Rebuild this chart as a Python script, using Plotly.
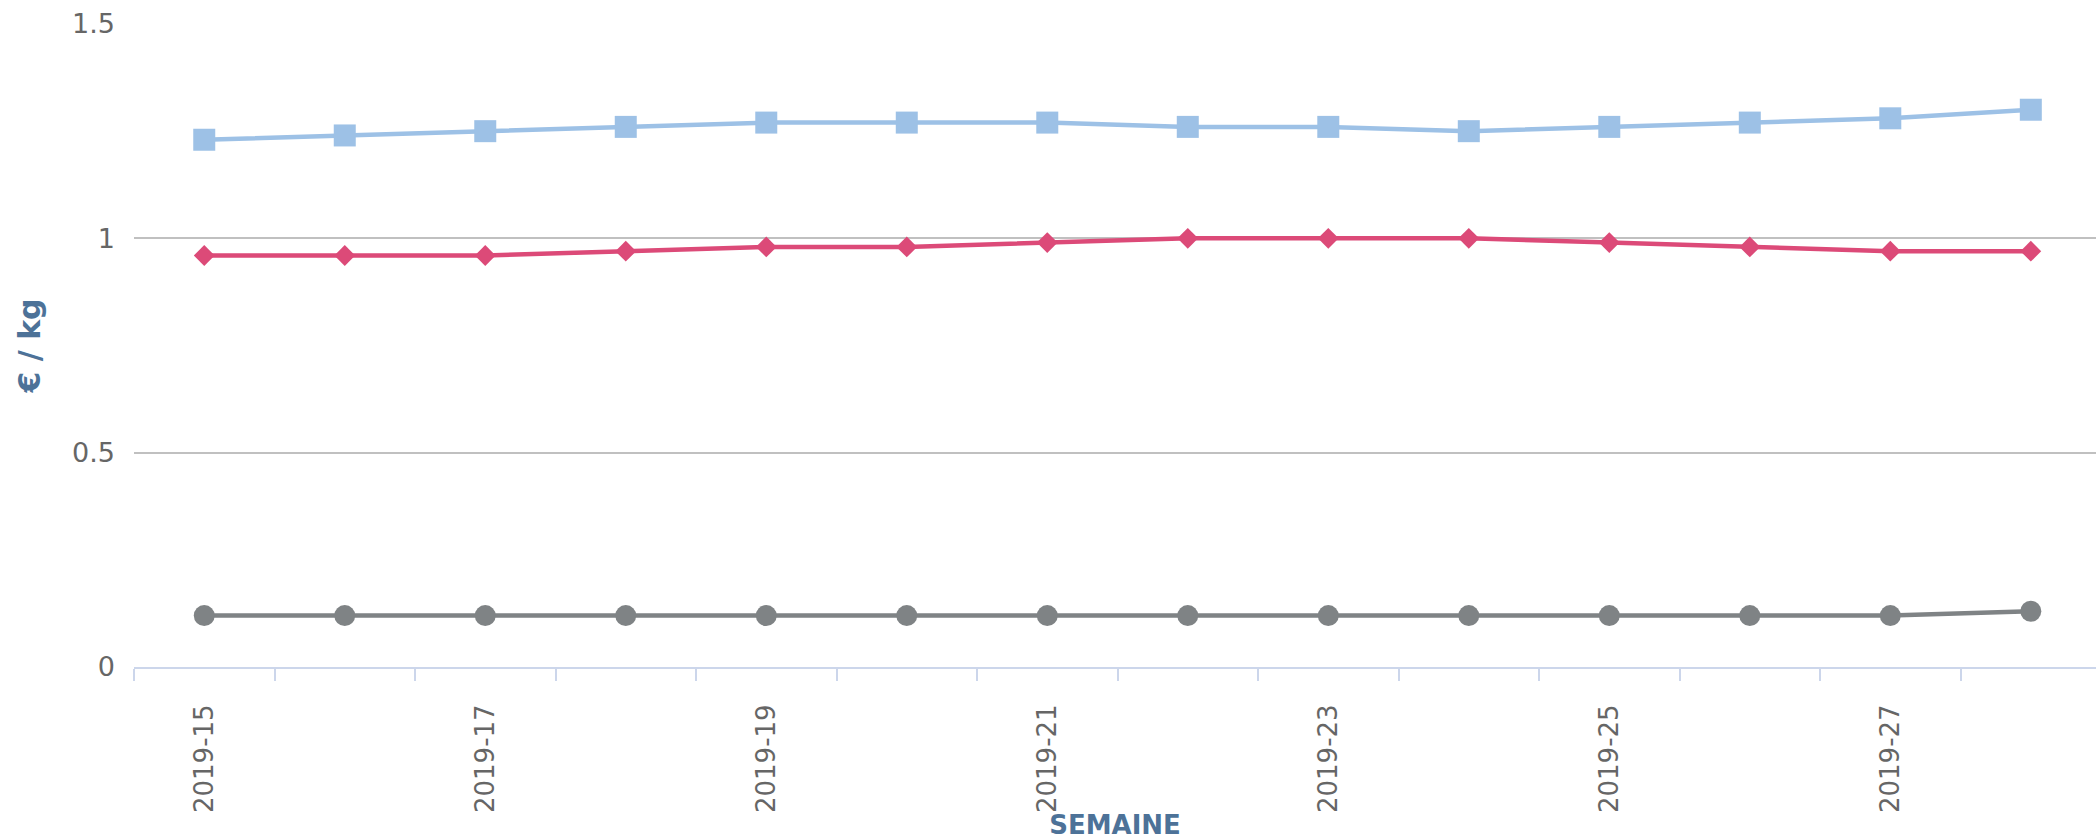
import plotly.graph_objects as go

weeks = ["2019-15", "2019-16", "2019-17", "2019-18", "2019-19", "2019-20", "2019-21",
         "2019-22", "2019-23", "2019-24", "2019-25", "2019-26", "2019-27", "2019-28"]
tick_text = [w if i % 2 == 0 else "" for i, w in enumerate(weeks)]

serie_bleue = [1.23, 1.24, 1.25, 1.26, 1.27, 1.27, 1.27, 1.26, 1.26, 1.25, 1.26, 1.27, 1.28, 1.30]
serie_rose = [0.96, 0.96, 0.96, 0.97, 0.98, 0.98, 0.99, 1.00, 1.00, 1.00, 0.99, 0.98, 0.97, 0.97]
serie_grise = [0.12, 0.12, 0.12, 0.12, 0.12, 0.12, 0.12, 0.12, 0.12, 0.12, 0.12, 0.12, 0.12, 0.13]

FONT = "DejaVu Sans"

fig = go.Figure()
fig.add_trace(go.Scatter(x=weeks, y=serie_bleue, mode="lines+markers",
                         line=dict(color="#9dc1e6", width=4.5),
                         marker=dict(symbol="square", size=22, color="#9dc1e6"),
                         showlegend=False))
fig.add_trace(go.Scatter(x=weeks, y=serie_rose, mode="lines+markers",
                         line=dict(color="#dc4a78", width=4.5),
                         marker=dict(symbol="diamond", size=16, color="#dc4a78"),
                         showlegend=False))
fig.add_trace(go.Scatter(x=weeks, y=serie_grise, mode="lines+markers",
                         line=dict(color="#7f8385", width=4.5),
                         marker=dict(symbol="circle", size=21, color="#7f8385"),
                         showlegend=False))

fig.update_layout(
    width=2096, height=840,
    margin=dict(l=134, r=0, t=24, b=173),
    paper_bgcolor="white", plot_bgcolor="white",
    font=dict(family=FONT, size=26, color="#666666"),
    xaxis=dict(
        type="category", range=[-0.5, 13.464],
        tickmode="array", tickvals=weeks, ticktext=tick_text,
        tickson="boundaries", ticks="outside", ticklen=12, tickwidth=2,
        tickcolor="#ccd6eb", showline=True, linecolor="#ccd6eb", linewidth=2,
        showgrid=False, tickangle=-90, ticklabelstandoff=25,
        tickfont=dict(family=FONT, size=26, color="#666666"),
        title=dict(text="<b>SEMAINE</b>", font=dict(family=FONT, size=26, color="#4d7298"),
                   standoff=24),
        automargin=False,
    ),
    yaxis=dict(
        range=[0, 1.5], tickvals=[0, 0.5, 1, 1.5], ticktext=["0", "0.5", "1", "1.5"],
        showgrid=True, gridcolor="#c0c0c0", gridwidth=2, zeroline=False,
        showline=False, ticks="", ticklabelstandoff=18,
        tickfont=dict(family=FONT, size=27, color="#666666"),
        title=dict(text="<b>€ / kg</b>", font=dict(family=FONT, size=30, color="#4d7298"),
                   standoff=22),
        automargin=False,
    ),
)

fig.write_html("out.html", config={"displayModeBar": False},
               post_script="document.body.style.margin='0';")
